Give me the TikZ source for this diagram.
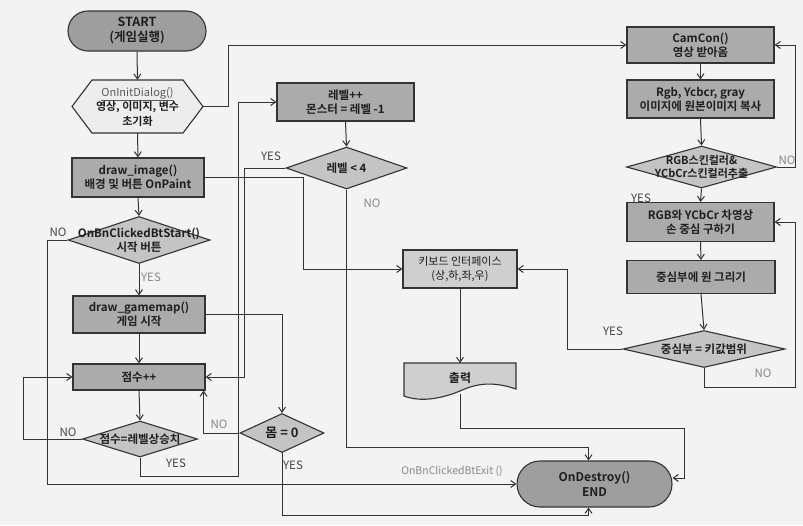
\documentclass[tikz,border=0pt]{standalone}
\usepackage{fontspec}
\setmainfont{Noto Sans CJK KR}[BoldFont={Noto Sans CJK KR Bold}]
\usetikzlibrary{arrows.meta,shapes.geometric}
\definecolor{bg}{HTML}{F3F3F3}
\definecolor{edge}{HTML}{333333}
\definecolor{boxg}{HTML}{ABABAB}
\definecolor{diag}{HTML}{C4C4C4}
\definecolor{lite}{HTML}{CFCFCF}
\definecolor{hexg}{HTML}{EDEDED}
\definecolor{startg}{HTML}{9E9E9E}
\definecolor{lbldark}{HTML}{444444}
\definecolor{lbllite}{HTML}{888888}
\begin{document}
\begin{tikzpicture}[x=1pt,y=-1pt,
  sz/.style 2 args={minimum width=#1pt, minimum height=#2pt},
  txt/.style={inner sep=0pt, align=center, font=\bfseries\fontsize{11.5}{14}\selectfont, text=black!88},
  box/.style={txt, draw=edge, fill=boxg, line width=1.1pt},
  litebox/.style={box, fill=lite, font=\fontsize{11}{14}\selectfont},
  stad/.style={box, fill=startg, rounded corners=#1},
  dia/.style={diamond, draw=edge, fill=diag, line width=1.1pt, inner sep=0pt},
  arr/.style={draw=edge, line width=1pt, -{Straight Barb[length=5pt,width=7pt,line width=1pt]}},
  lbl/.style={inner sep=0pt, font=\fontsize{11.5}{13}\selectfont, text=lbldark},
  lbll/.style={lbl, text=lbllite}
]
\useasboundingbox (0,0) rectangle (803,525);
\fill[bg] (0,0) rectangle (803,525);

% ---------- left column ----------
\node[stad=20pt, sz={138}{40}, font=\bfseries\fontsize{12.5}{15}\selectfont] (start) at (137,31) {START\\(게임실행)};

\filldraw[draw=edge, fill=hexg, line width=1.1pt]
  (72,106.5) -- (92,80) -- (183,80) -- (203,106.5) -- (183,133) -- (92,133) -- cycle;
\node[txt, sz={131}{53}, font=\fontsize{11}{14.5}\selectfont] (init) at (137.5,106.5)
  {\textcolor{black!65}{\underline{OnInitDialog()}}\\ \textbf{영상, 이미지, 변수}\\ \textbf{초기화}};

\node[box, sz={132}{39}] (drawimg) at (138,177.5) {draw\_image()\\배경 및 버튼 OnPaint};

\node[dia, sz={142}{47}] (btstart) at (139,240) {};
\node[txt] (btstart-t) at (btstart) {OnBnClickedBtStart()\\시작 버튼};

\node[box, sz={132}{37}] (gamemap) at (139,314.5) {draw\_gamemap()\\게임 시작};

\node[box, sz={132}{26}] (score) at (139,377) {점수++};

\node[dia, sz={115}{36}] (lvlup) at (140,439) {};
\node[txt] (lvlup-t) at (lvlup) {점수=레벨상승치};

\node[dia, sz={84}{39}] (body) at (282,433) {};
\node[txt, font=\bfseries\fontsize{13}{15}\selectfont] (body-t) at (body) {몸 = 0};

% ---------- middle column ----------
\node[box, sz={137}{38}] (level) at (345.5,102) {레벨++\\몬스터 = 레벨 -1};

\node[dia, sz={121}{42}] (lvl4) at (346.5,168) {};
\node[txt] (lvl4-t) at (lvl4) {레벨 < 4};

\node[litebox, sz={114}{38}] (kbd) at (460,269) {키보드 인터페이스\\(상,하,좌,우)};

\filldraw[draw=edge, fill=lite, line width=1.1pt]
  (404,363) -- (516,363) -- (516,389)
  .. controls (484,378) and (468,388) .. (455,393)
  .. controls (438,399) and (420,402) .. (404,396) -- cycle;
\node[txt, font=\bfseries\fontsize{12}{14}\selectfont] (out) at (460,378) {출력};
\coordinate (outb) at (460,393.5);

\node[stad=23pt, sz={155}{46}, font=\bfseries\fontsize{12}{15}\selectfont] (dest) at (594.5,484) {OnDestroy()\\END};

% ---------- right column ----------
\node[box, sz={147}{36}] (cam) at (700.5,45) {CamCon()\\영상 받아옴};
\node[box, sz={147}{38}] (rgb) at (700.5,99) {Rgb, Ycbcr, gray\\이미지에 원본이미지 복사};
\node[dia, sz={150}{42}] (skin) at (701.5,167) {};
\node[txt, font=\bfseries\fontsize{11}{13.5}\selectfont] (skin-t) at (skin) {RGB스킨컬러\&\\YCbCr스킨컬러추출};
\node[box, sz={147}{39}] (hand) at (700.5,222) {RGB와 YCbCr 차영상\\손 중심 구하기};
\node[box, sz={148}{33}] (circ) at (701,277) {중심부에 원 그리기};
\node[dia, sz={162}{37}] (key) at (704,349) {};
\node[txt] (key-t) at (key) {중심부 = 키값범위};

% ---------- connectors: left ----------
\draw[arr] (start.south) -- (init.north);
\draw[arr] (init.south) -- (drawimg.north);
\draw[arr] (init.east) -- ++(25,0) |- (cam.west);
\draw[arr] (drawimg.east) -- ++(99,0) |- (kbd.west);
\draw[arr] (drawimg.south) -- (btstart.north);
\draw[arr] (btstart.south) -- (gamemap.north);
\draw[arr] (btstart.west) -- ++(-20,0) |- (dest.west);
\draw[arr] (gamemap.south) -- (score.north);
\draw[arr] (gamemap.east) -| (body.north);
\draw[arr] (score.south) -- (lvlup.north);
\draw[arr] (lvlup.west) -- ++(-58.5,0) |- (score.west);
\draw[arr] (lvlup.south) -- ++(0,19) -| ([xshift=-38pt]level.west) -- (level.west);
\draw[arr] (lvl4.west) -- ++(-41,0) |- (score.east);
\draw[arr] (level.south) -- (lvl4.north);
\draw[arr] (lvl4.south) -- ++(0,258) -| ([xshift=-6pt]dest.north);
\draw[arr] (body.west) -| ([xshift=-2pt]score.south east);
\draw[arr] (body.south) -- ++(0,62) -| ([xshift=-6pt]dest.south);

% ---------- connectors: middle/right ----------
\draw[arr] (kbd.south) -- (out.north |- 0,363);
\draw[arr] (outb) -- ++(0,34.5) -| (684,478) -- ([yshift=6pt]dest.east);
\draw[arr] (cam.south) -- (rgb.north);
\draw[arr] (rgb.south) -- (skin.north);
\draw[arr] (skin.east) -- ++(18,0) |- (cam.east);
\draw[arr] (skin.south) -- (hand.north);
\draw[arr] (hand.south) -- (circ.north);
\draw[arr] (circ.south) -- (key.north);
\draw[arr] (key.west) -- ++(-55,0) |- (kbd.east);
\draw[arr] (key.south) -- ++(0,19) -| ([xshift=21pt]hand.east) -- (hand.east);

% ---------- labels ----------
\node[lbl] (l1) at (58,232) {NO};
\node[lbll] (l2) at (151,277) {YES};
\node[lbl] (l3) at (68,432) {NO};
\node[lbl] (l4) at (176,463) {YES};
\node[lbll] (l5) at (219,424) {NO};
\node[lbl] (l6) at (293,465) {YES};
\node[lbl] (l7) at (271,156) {YES};
\node[lbll] (l8) at (372,203) {NO};
\node[lbll] (l9) at (787,160) {NO};
\node[lbl] (l10) at (641,198) {YES};
\node[lbl] (l11) at (613,331) {YES};
\node[lbll] (l12) at (763,373) {NO};
\node[lbll, font=\fontsize{10.5}{12}\selectfont] (l13) at (452,471) {OnBnClickedBtExit ()};
\end{tikzpicture}
\end{document}
